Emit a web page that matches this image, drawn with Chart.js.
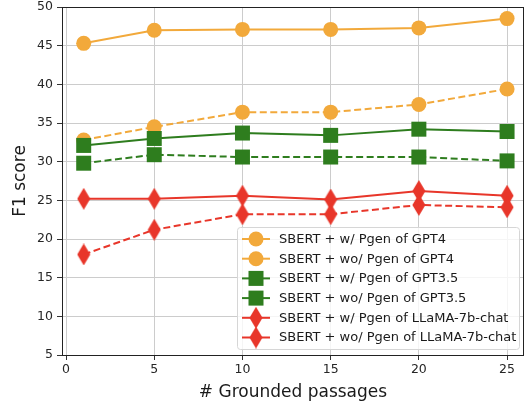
<!DOCTYPE html>
<html>
<head>
<meta charset="utf-8">
<script src="https://cdn.jsdelivr.net/npm/chart.js@4.4.0/dist/chart.umd.min.js"></script>
<style>
  html, body { margin: 0; padding: 0; background: #fff; }
  #wrap { width: 524px; height: 403px; }
</style>
</head>
<body>
<div id="wrap"><canvas id="chart"></canvas></div>
<script>
// Data
const passages = [1, 5, 10, 15, 20, 25];
const xTicks = [0, 5, 10, 15, 20, 25];

const gpt4With = [45.3, 47.0, 47.1, 47.1, 47.3, 48.5];
const gpt4Without = [32.8, 34.5, 36.4, 36.4, 37.4, 39.4];
const gpt35With = [32.1, 33.0, 33.7, 33.4, 34.2, 33.9];
const gpt35Without = [29.8, 30.9, 30.6, 30.6, 30.6, 30.1];
const llamaWith = [25.2, 25.2, 25.6, 25.1, 26.2, 25.6];
const llamaWithout = [18.0, 21.2, 23.2, 23.2, 24.4, 24.1];

const seriesLabels = [
    'SBERT + w/ Pgen of GPT4',
    'SBERT + wo/ Pgen of GPT4',
    'SBERT + w/ Pgen of GPT3.5',
    'SBERT + wo/ Pgen of GPT3.5',
    'SBERT + w/ Pgen of LLaMA-7b-chat',
    'SBERT + wo/ Pgen of LLaMA-7b-chat'
];

const ORANGE = '#f2a93b';
const GREEN = '#2e7d1e';
const RED = '#e8362a';

Chart.defaults.font.family = "'DejaVu Sans', sans-serif";
Chart.defaults.color = '#262626';

/**
 * Thin diamond marker (like matplotlib 'd')
 */
function thinDiamond(color) {
    const c = document.createElement('canvas');
    c.width = 14;
    c.height = 22;
    const g = c.getContext('2d');
    g.fillStyle = color;
    g.beginPath();
    g.moveTo(7, 0);
    g.lineTo(13.5, 11);
    g.lineTo(7, 22);
    g.lineTo(0.5, 11);
    g.closePath();
    g.fill();
    return c;
}

const redDiamond = thinDiamond(RED);

function makeSet(label, values, color, marker, dashed, idx) {
    return {
        label: label,
        data: passages.map((x, i) => ({ x: x, y: values[i] })),
        borderColor: color,
        backgroundColor: color,
        borderWidth: 2,
        borderDash: dashed ? [7, 3.5] : [],
        pointStyle: marker,
        pointRadius: marker === 'rect' ? 10.6 : 7.5,
        pointBorderWidth: 0,
        pointBackgroundColor: color,
        fill: false,
        tension: 0,
        order: 6 - idx
    };
}

const datasets = [
    makeSet(seriesLabels[0], gpt4With, ORANGE, 'circle', false, 0),
    makeSet(seriesLabels[1], gpt4Without, ORANGE, 'circle', true, 1),
    makeSet(seriesLabels[2], gpt35With, GREEN, 'rect', false, 2),
    makeSet(seriesLabels[3], gpt35Without, GREEN, 'rect', true, 3),
    makeSet(seriesLabels[4], llamaWith, RED, redDiamond, false, 4),
    makeSet(seriesLabels[5], llamaWithout, RED, redDiamond, true, 5)
];

// Frame around the plot plus a matplotlib-like legend in the lower right
const framePlugin = {
    id: 'frameAndLegend',
    afterDraw(chart) {
        const ctx = chart.ctx;
        const a = chart.chartArea;
        ctx.save();
        ctx.strokeStyle = '#222';
        ctx.lineWidth = 1;
        ctx.strokeRect(Math.round(a.left) + 0.5, Math.round(a.top) + 0.5,
            Math.round(a.right - a.left) - 1, Math.round(a.bottom - a.top));

        // legend box
        const bx = 237, by = 227, bw = 282, bh = 122;
        ctx.fillStyle = 'rgba(255,255,255,0.8)';
        ctx.strokeStyle = '#d6d6d6';
        ctx.beginPath();
        ctx.roundRect(bx + 0.5, by + 0.5, bw, bh, 3);
        ctx.fill();
        ctx.stroke();

        ctx.font = "13px 'DejaVu Sans'";
        ctx.textBaseline = 'middle';
        chart.data.datasets.forEach((ds, i) => {
            const y = by + 12 + i * 19.7;
            ctx.strokeStyle = ds.borderColor;
            ctx.lineWidth = 2;
            ctx.setLineDash([]);
            ctx.beginPath();
            ctx.moveTo(242, y);
            ctx.lineTo(270, y);
            ctx.stroke();
            ctx.fillStyle = ds.borderColor;
            if (ds.pointStyle === 'circle') {
                ctx.beginPath();
                ctx.arc(256, y, 7.5, 0, Math.PI * 2);
                ctx.fill();
            } else if (ds.pointStyle === 'rect') {
                ctx.fillRect(256 - 7.5, y - 7.5, 15, 15);
            } else {
                ctx.drawImage(ds.pointStyle, 256 - 7, y - 11);
            }
            ctx.fillStyle = '#1a1a1a';
            ctx.fillText(ds.label, 279, y + 0.5);
        });
        ctx.restore();
    }
};

new Chart(document.getElementById('chart'), {
    type: 'line',
    data: { datasets: datasets },
    plugins: [framePlugin],
    options: {
        responsive: true,
        maintainAspectRatio: false,
        animation: false,
        layout: { autoPadding: false, padding: { top: 7, right: 0, left: 0, bottom: 0 } },
        plugins: {
            legend: { display: false },
            tooltip: { enabled: false }
        },
        scales: {
            x: {
                type: 'linear',
                min: -0.23,
                max: 25.96,
                afterBuildTicks: scale => {
                    scale.ticks = xTicks.map(v => ({ value: v }));
                },
                afterFit: scale => {
                    scale.height = 48;
                    scale.paddingLeft = 0;
                    scale.paddingRight = 0;
                },
                grid: { color: '#cccccc', tickColor: '#333', tickLength: 5 },
                border: { display: false },
                ticks: { font: { size: 12.5 }, padding: 2, color: '#262626' },
                title: {
                    display: true,
                    text: '# Grounded passages',
                    font: { size: 17 },
                    color: '#1a1a1a',
                    padding: { top: 0, bottom: 0 }
                }
            },
            y: {
                min: 5,
                max: 50,
                afterFit: scale => {
                    scale.width = 62;
                    scale.paddingTop = 0;
                    scale.paddingBottom = 0;
                },
                grid: { color: '#cccccc', tickColor: '#333', tickLength: 5 },
                border: { display: false },
                ticks: { stepSize: 5, font: { size: 12.5 }, padding: 4, color: '#262626' },
                title: {
                    display: true,
                    text: 'F1 score',
                    font: { size: 17 },
                    color: '#1a1a1a',
                    padding: { top: 10, bottom: 0 }
                }
            }
        }
    }
});
</script>
</body>
</html>
